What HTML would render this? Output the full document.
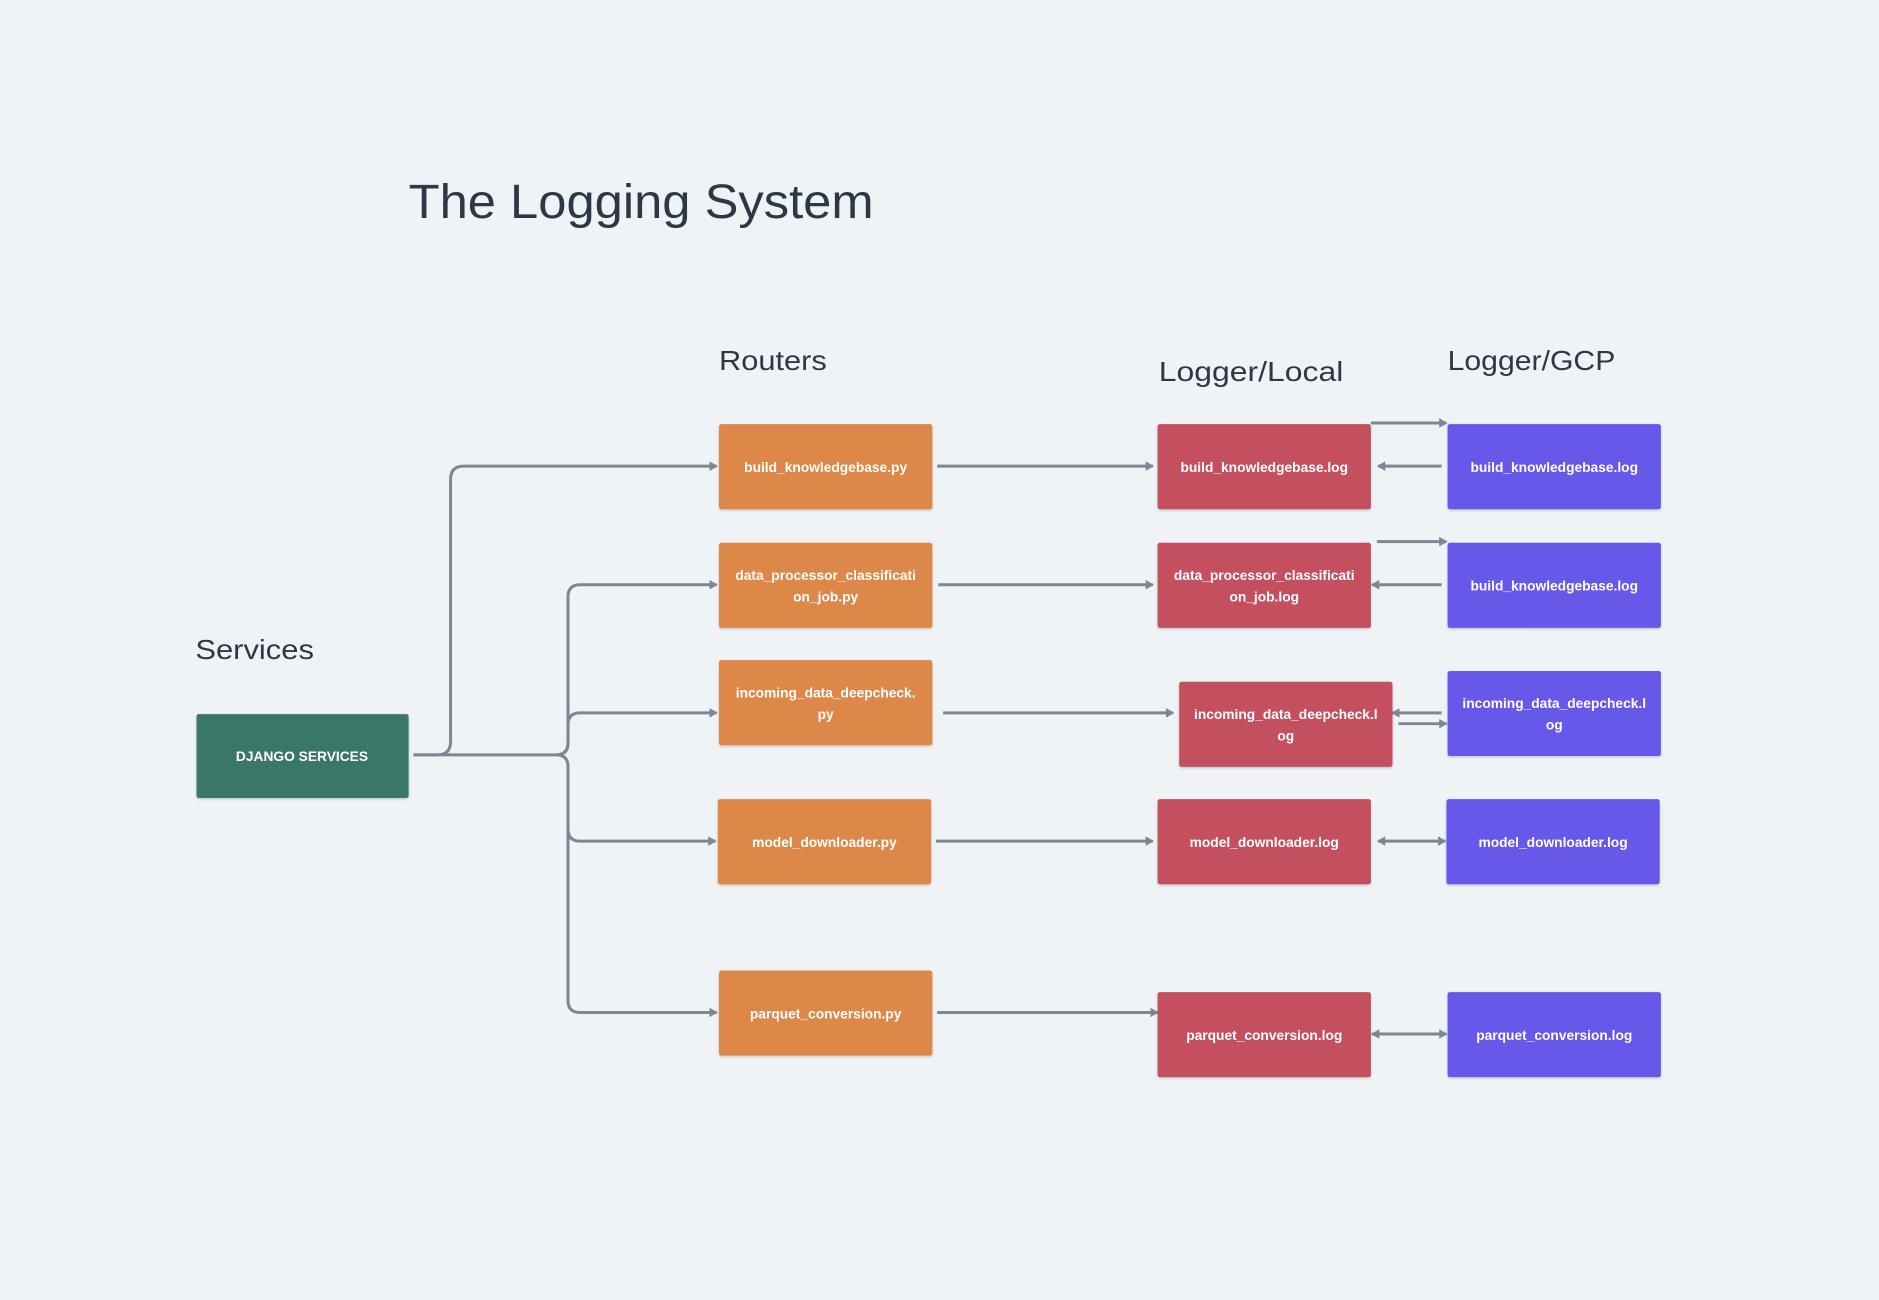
<!DOCTYPE html>
<html><head><meta charset="utf-8"><style>
html,body{margin:0;padding:0;background:#eff3f6;}
svg{display:block}
text{font-family:"Liberation Sans",sans-serif}
.h{fill:#2d3846}
.b{fill:#fff;font-size:11.5px;font-weight:bold;text-anchor:middle}
.l{stroke:#7b8794;stroke-width:2.5;fill:none}
</style></head><body>
<svg width="1879" height="1300" viewBox="0 0 1568 1085" preserveAspectRatio="none">
<defs>
<marker id="a" markerWidth="8" markerHeight="8" refX="6" refY="4" orient="auto" markerUnits="userSpaceOnUse"><path d="M0,0 L7,4 L0,8 z" fill="#7b8794"/></marker>
<marker id="s" markerWidth="8" markerHeight="8" refX="1" refY="4" orient="auto" markerUnits="userSpaceOnUse"><path d="M7,0 L0,4 L7,8 z" fill="#7b8794"/></marker>
<filter id="sh"><feDropShadow dx="0" dy="1" stdDeviation="1" flood-opacity="0.2"/></filter>
</defs>
<rect width="1568" height="1085" fill="#eff3f6"/>
<text x="341" y="182" class="h" font-size="40" textLength="388" lengthAdjust="spacingAndGlyphs">The Logging System</text>
<text x="600" y="309" class="h" font-size="23" textLength="90" lengthAdjust="spacingAndGlyphs">Routers</text>
<text x="967" y="318" class="h" font-size="23" textLength="154" lengthAdjust="spacingAndGlyphs">Logger/Local</text>
<text x="1208" y="309" class="h" font-size="23" textLength="140" lengthAdjust="spacingAndGlyphs">Logger/GCP</text>
<text x="163" y="550" class="h" font-size="23" textLength="99" lengthAdjust="spacingAndGlyphs">Services</text>

<path class="l" d="M345,630 H365 Q376,630 376,619 V400 Q376,389 387,389 H598" marker-end="url(#a)"/>
<path class="l" d="M345,630 H464 Q474,630 474,620 V498 Q474,488 484,488 H598" marker-end="url(#a)"/>
<path class="l" d="M464,630 Q474,630 474,620 V605 Q474,595 484,595 H598" marker-end="url(#a)"/>
<path class="l" d="M464,630 Q474,630 474,640 V692 Q474,702 484,702 H597" marker-end="url(#a)"/>
<path class="l" d="M474,690 V835 Q474,845 484,845 H598" marker-end="url(#a)"/>

<path class="l" d="M782,389 H962" marker-end="url(#a)"/>
<path class="l" d="M783,488 H962" marker-end="url(#a)"/>
<path class="l" d="M787,595 H979" marker-end="url(#a)"/>
<path class="l" d="M781,702 H962" marker-end="url(#a)"/>
<path class="l" d="M782,845 H966" marker-end="url(#a)"/>

<path class="l" d="M1144,353 H1207" marker-end="url(#a)"/>
<path class="l" d="M1203,389 H1150" marker-end="url(#a)"/>
<path class="l" d="M1149,452 H1207" marker-end="url(#a)"/>
<path class="l" d="M1203,488 H1145" marker-end="url(#a)"/>
<path class="l" d="M1203,595 H1162" marker-end="url(#a)"/>
<path class="l" d="M1167,604 H1207" marker-end="url(#a)"/>
<path class="l" d="M1150,702 H1206" marker-start="url(#s)" marker-end="url(#a)"/>
<path class="l" d="M1145,863 H1207" marker-start="url(#s)" marker-end="url(#a)"/>

<g filter="url(#sh)">
<rect x="164" y="596" width="177" height="70" rx="2" fill="#3b7766"/>
<rect x="600" y="354" width="178" height="71" rx="2" fill="#dd884a"/>
<rect x="600" y="453" width="178" height="71" rx="2" fill="#dd884a"/>
<rect x="600" y="551" width="178" height="71" rx="2" fill="#dd884a"/>
<rect x="599" y="667" width="178" height="71" rx="2" fill="#dd884a"/>
<rect x="600" y="810" width="178" height="71" rx="2" fill="#dd884a"/>
<rect x="966" y="354" width="178" height="71" rx="2" fill="#c44f5f"/>
<rect x="966" y="453" width="178" height="71" rx="2" fill="#c44f5f"/>
<rect x="984" y="569" width="178" height="71" rx="2" fill="#c44f5f"/>
<rect x="966" y="667" width="178" height="71" rx="2" fill="#c44f5f"/>
<rect x="966" y="828" width="178" height="71" rx="2" fill="#c44f5f"/>
<rect x="1208" y="354" width="178" height="71" rx="2" fill="#6659e9"/>
<rect x="1208" y="453" width="178" height="71" rx="2" fill="#6659e9"/>
<rect x="1208" y="560" width="178" height="71" rx="2" fill="#6659e9"/>
<rect x="1207" y="667" width="178" height="71" rx="2" fill="#6659e9"/>
<rect x="1208" y="828" width="178" height="71" rx="2" fill="#6659e9"/>
</g>

<text class="b" x="252" y="635">DJANGO SERVICES</text>
<text class="b" x="689" y="394">build_knowledgebase.py</text>
<text class="b" x="689" y="484">data_processor_classificati</text>
<text class="b" x="689" y="502">on_job.py</text>
<text class="b" x="689" y="582">incoming_data_deepcheck.</text>
<text class="b" x="689" y="600">py</text>
<text class="b" x="688" y="707">model_downloader.py</text>
<text class="b" x="689" y="850">parquet_conversion.py</text>

<text class="b" x="1055" y="394">build_knowledgebase.log</text>
<text class="b" x="1055" y="484">data_processor_classificati</text>
<text class="b" x="1055" y="502">on_job.log</text>
<text class="b" x="1073" y="600">incoming_data_deepcheck.l</text>
<text class="b" x="1073" y="618">og</text>
<text class="b" x="1055" y="707">model_downloader.log</text>
<text class="b" x="1055" y="868">parquet_conversion.log</text>

<text class="b" x="1297" y="394">build_knowledgebase.log</text>
<text class="b" x="1297" y="493">build_knowledgebase.log</text>
<text class="b" x="1297" y="591">incoming_data_deepcheck.l</text>
<text class="b" x="1297" y="609">og</text>
<text class="b" x="1296" y="707">model_downloader.log</text>
<text class="b" x="1297" y="868">parquet_conversion.log</text>
</svg>
</body></html>
